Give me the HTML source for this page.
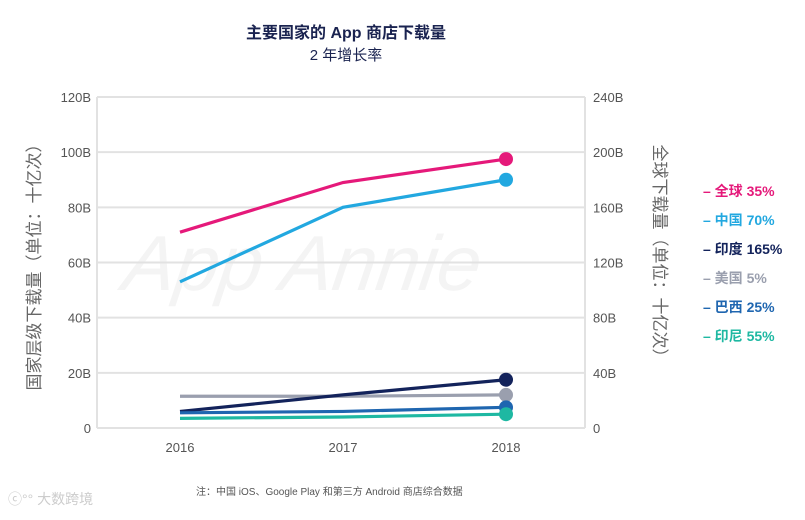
<!DOCTYPE html>
<html><head><meta charset="utf-8"><style>
body{margin:0;background:#fff;width:805px;height:515px;overflow:hidden;font-family:"Liberation Sans","Noto Sans CJK SC",sans-serif}
svg text{font-family:"Liberation Sans","Noto Sans CJK SC",sans-serif}
</style></head><body>
<svg id="c" width="805" height="515">
<text x="346" y="38" text-anchor="middle" font-size="16" font-weight="bold" fill="#1a2350">主要国家的 App 商店下载量</text>
<text x="346" y="60" text-anchor="middle" font-size="15" fill="#1a2350">2 年增长率</text>
<text x="340" y="290" text-anchor="middle" font-size="78" font-style="italic" fill="#f4f4f4" transform="skewX(-8)">App Annie</text>
<g id="grid"></g><g id="series"></g><g id="legend"></g>
<text transform="translate(40,263) rotate(-90)" text-anchor="middle" font-size="17" fill="#666">国家层级下载量（单位：十亿次）</text>
<text transform="translate(654,255) rotate(90)" text-anchor="middle" font-size="17" fill="#666">全球下载量（单位：十亿次）</text>
<text x="196" y="495" font-size="10" fill="#555">注：中国 iOS、Google Play 和第三方 Android 商店综合数据</text>
<text x="8" y="504" font-size="14" fill="#ccc">ⓒ°° 大数跨境</text>
</svg>
<script>
const years=["2016","2017","2018"];
const leftTicks=[0,20,40,60,80,100,120];
const leftTickLabels=["0","20B","40B","60B","80B","100B","120B"];
const rightTickLabels=["0","40B","80B","120B","160B","200B","240B"];
const seriesNames=["全球 35%","中国 70%","印度 165%","美国 5%","巴西 25%","印尼 55%"];
const seriesColors=["#e5197a","#22a8e0","#13235b","#9a9fae","#1f66b0","#1eb8a2"];
const globalValues=[142,178,195]; // right axis
const chinaValues=[53,80,90];
const indiaValues=[6,12,17.5];
const usValues=[11.5,11.5,12];
const brazilValues=[5.5,6,7.5];
const indonesiaValues=[3.5,4,5];
const NS="http://www.w3.org/2000/svg";
const x0=97,x1=585,yTop=97,yBot=428;
const xS=i=>180+i*163;
const yL=v=>yBot-(v/120)*(yBot-yTop);
const yR=v=>yL(v/2);
function mk(t,a,p){const e=document.createElementNS(NS,t);for(const k in a)e.setAttribute(k,a[k]);p.appendChild(e);return e;}
const g=document.getElementById('grid');
leftTicks.forEach((v,i)=>{
 const l=mk('line',{x1:x0,x2:x1,y1:yL(v),y2:yL(v),stroke:'#e2e2e2','stroke-width':2},g);
 
 const t=mk('text',{x:91,y:yL(v)+5,'text-anchor':'end','font-size':13,fill:'#555'},g);t.textContent=leftTickLabels[i];
 
 const r=mk('text',{x:593,y:yL(v)+5,'font-size':13,fill:'#555'},g);r.textContent=rightTickLabels[i];
 
});
[x0,x1].forEach(x=>{const l=mk('line',{x1:x,x2:x,y1:yTop,y2:yBot,stroke:'#e2e2e2','stroke-width':2},g);
 });
years.forEach((y,i)=>{const t=mk('text',{x:xS(i),y:452,'text-anchor':'middle','font-size':13,fill:'#555'},g);t.textContent=y;
 });
const s=document.getElementById('series');
const all=[globalValues.map(yR),chinaValues.map(yL),usValues.map(yL),indiaValues.map(yL),brazilValues.map(yL),indonesiaValues.map(yL)];
const order=[0,1,3,2,4,5];
all.forEach((ys,k)=>{const ci=order[k];
 const p=mk('polyline',{points:ys.map((y,i)=>xS(i)+','+y).join(' '),fill:'none',stroke:seriesColors[ci],'stroke-width':3.2},s);
 
 const c=mk('circle',{cx:xS(2),cy:ys[2],r:7,fill:seriesColors[ci]},s);
 
});
const lg=document.getElementById('legend');
seriesNames.forEach((n,i)=>{const t=mk('text',{x:703,y:196+i*29,'font-size':14,'font-weight':'bold',fill:seriesColors[i]},lg);
 t.textContent='– '+n;
 });
</script>
</body></html>
